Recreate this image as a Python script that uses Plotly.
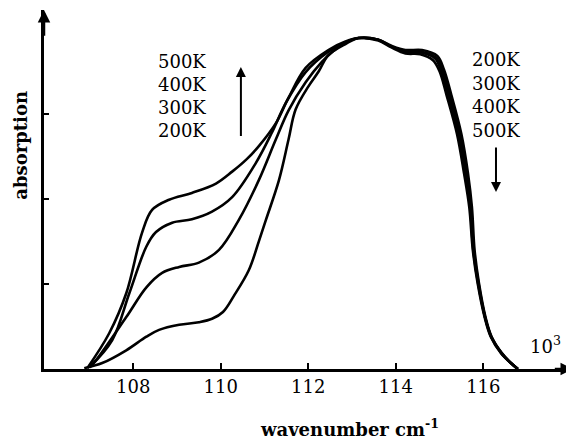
import plotly.graph_objects as go

# ---- data (wavenumber in units of 10^3 cm^-1, absorption in arbitrary units)
x_200K = [106.88, 107.29, 107.84, 108.30, 108.59, 109.05, 109.50, 109.80, 110.05, 110.30, 110.64, 110.87, 111.03,
          111.33, 111.55, 111.71, 112.00, 112.24, 112.46, 112.85, 113.15, 113.60, 113.90, 114.22, 114.60, 114.95,
          115.10, 115.27, 115.50, 115.65, 115.74, 115.80, 115.90, 116.05, 116.19, 116.42, 116.63, 116.79]
y_200K = [0.01, 0.07, 0.22, 0.38, 0.46, 0.52, 0.55, 0.59, 0.67, 0.86, 1.16, 1.50, 1.75,
          2.22, 2.70, 3.05, 3.32, 3.50, 3.69, 3.82, 3.89, 3.87, 3.80, 3.75, 3.75, 3.68,
          3.52, 3.22, 2.76, 2.30, 1.90, 1.40, 1.01, 0.61, 0.38, 0.19, 0.07, 0.00]

x_300K = [107.00, 107.16, 107.84, 108.30, 108.66, 109.05, 109.50, 109.96, 110.41, 110.87, 111.26, 111.55,
          111.94, 112.31, 112.58, 112.85, 113.15, 113.60, 113.90, 114.22, 114.59, 114.92,
          115.07, 115.23, 115.46, 115.62, 115.72, 115.78, 115.89, 116.04, 116.18, 116.41, 116.63, 116.79]
y_300K = [0.02, 0.11, 0.61, 0.96, 1.13, 1.20, 1.25, 1.40, 1.75, 2.22, 2.70, 3.04,
          3.37, 3.61, 3.74, 3.84, 3.89, 3.87, 3.79, 3.74, 3.73, 3.66,
          3.50, 3.22, 2.76, 2.30, 1.90, 1.40, 1.01, 0.61, 0.38, 0.19, 0.07, 0.00]

x_400K = [107.00, 107.52, 107.91, 108.30, 108.52, 108.89, 109.34, 109.80, 110.26, 110.80, 111.17, 111.49,
          111.94, 112.46, 112.85, 113.15, 113.60, 113.90, 114.22, 114.58, 114.90,
          115.04, 115.20, 115.43, 115.59, 115.70, 115.77, 115.88, 116.04, 116.18, 116.41, 116.63, 116.79]
y_400K = [0.02, 0.34, 0.89, 1.44, 1.61, 1.72, 1.76, 1.85, 2.02, 2.42, 2.78, 3.13,
          3.49, 3.73, 3.84, 3.89, 3.87, 3.79, 3.73, 3.72, 3.65,
          3.50, 3.22, 2.76, 2.30, 1.90, 1.40, 1.01, 0.61, 0.38, 0.19, 0.07, 0.00]

x_500K = [106.95, 107.45, 107.84, 108.20, 108.43, 108.82, 109.34, 109.89, 110.26, 110.60, 110.87, 111.26, 111.55,
          111.94, 112.46, 112.85, 113.15, 113.60, 113.90, 114.22, 114.56, 114.85,
          115.00, 115.16, 115.40, 115.56, 115.68, 115.76, 115.87, 116.03, 116.17, 116.40, 116.63, 116.79]
y_500K = [0.01, 0.42, 0.89, 1.60, 1.87, 1.99, 2.07, 2.18, 2.32, 2.47, 2.62, 2.89, 3.19,
          3.54, 3.75, 3.85, 3.89, 3.86, 3.78, 3.71, 3.70, 3.63,
          3.50, 3.22, 2.76, 2.30, 1.90, 1.40, 1.01, 0.61, 0.38, 0.19, 0.07, 0.00]

series_names = ["200K", "300K", "400K", "500K"]
series_x = [x_200K, x_300K, x_400K, x_500K]
series_y = [y_200K, y_300K, y_400K, y_500K]

x_ticks = [108, 110, 112, 114, 116]
y_ticks = [1, 2, 3]
left_labels = ["500K", "400K", "300K", "200K"]
right_labels = ["200K", "300K", "400K", "500K"]

FONT = "DejaVu Serif"

fig = go.Figure()
for name, xs, ys in zip(series_names, series_x, series_y):
    fig.add_trace(go.Scatter(x=xs, y=ys, mode="lines", name=name,
                             line=dict(color="black", width=2.6, shape="spline", smoothing=1.0),
                             showlegend=False, hoverinfo="x+y+name"))

ann = []
# temperature labels
for i, t in enumerate(left_labels):
    ann.append(dict(x=109.12, y=3.61 - i * 0.27, xref="x", yref="y", text=t, showarrow=False,
                    font=dict(family=FONT, size=18, color="black")))
for i, t in enumerate(right_labels):
    ann.append(dict(x=116.29, y=3.64 - i * 0.28, xref="x", yref="y", text=t, showarrow=False,
                    font=dict(family=FONT, size=18, color="black")))
# temperature arrows
ann.append(dict(x=110.46, y=3.55, ax=110.46, ay=2.72, xref="x", yref="y", axref="x", ayref="y",
                text="", showarrow=True, arrowhead=2, arrowsize=1, arrowwidth=2, arrowcolor="black"))
ann.append(dict(x=116.29, y=2.08, ax=116.29, ay=2.62, xref="x", yref="y", axref="x", ayref="y",
                text="", showarrow=True, arrowhead=2, arrowsize=1, arrowwidth=2, arrowcolor="black"))
# axis arrows
ann.append(dict(x=105.96, y=4.22, ax=105.96, ay=3.9, xref="x", yref="y", axref="x", ayref="y",
                text="", showarrow=True, arrowhead=2, arrowsize=1, arrowwidth=2.5, arrowcolor="black"))
ann.append(dict(x=118.05, y=0, ax=117.6, ay=0, xref="x", yref="y", axref="x", ayref="y",
                text="", showarrow=True, arrowhead=2, arrowsize=1, arrowwidth=2.5, arrowcolor="black"))
# unit multiplier
ann.append(dict(x=117.42, y=0.28, xref="x", yref="y", text="10<sup>3</sup>", showarrow=False,
                font=dict(family=FONT, size=18, color="black")))
# axis titles
ann.append(dict(x=-0.044, y=0.624, xref="paper", yref="paper", text="<b>absorption</b>", textangle=-90,
                xanchor="center", yanchor="middle",
                showarrow=False, font=dict(family=FONT, size=18, color="black")))
ann.append(dict(x=0.578, y=-0.164, xref="paper", yref="paper", text="<b>wavenumber cm<sup>-1</sup></b>",
                showarrow=False, xanchor="center", yanchor="middle",
                font=dict(family=FONT, size=18, color="black")))

# the page places the figure 8 px in from the top-left corner, so the figure is 8 px smaller
fig.update_layout(
    width=566, height=433,
    margin=dict(l=36, r=1, t=2, b=72),
    paper_bgcolor="white", plot_bgcolor="white",
    annotations=ann,
    xaxis=dict(range=[105.96, 118.05], tickvals=x_ticks, ticktext=[str(v) for v in x_ticks],
               showgrid=False, zeroline=False, showline=True, linecolor="black", linewidth=2.5,
               ticks="inside", ticklen=6, tickwidth=1.5, tickcolor="black",
               tickfont=dict(family=FONT, size=18, color="black")),
    yaxis=dict(range=[0, 4.22], tickvals=y_ticks, showticklabels=False,
               showgrid=False, zeroline=False, showline=True, linecolor="black", linewidth=2.5,
               ticks="inside", ticklen=5, tickwidth=1.5, tickcolor="black"),
)

fig.write_html("out.html")
